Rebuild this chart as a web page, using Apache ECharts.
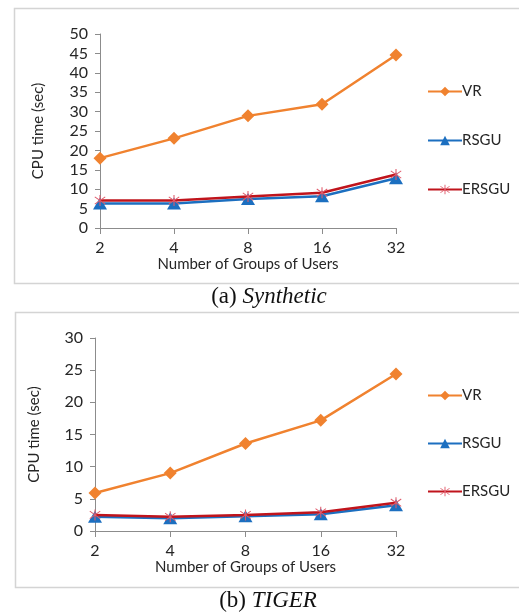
<!DOCTYPE html>
<html><head><meta charset="utf-8">
<script src="https://cdn.jsdelivr.net/npm/echarts@6/dist/echarts.min.js"></script>
<style>html,body{margin:0;padding:0;background:#fff}#c{width:519px;height:615px}</style>
</head><body><div id="c"></div>
<script>
const categories = ['2', '4', '8', '16', '32'];
const synVR = [18, 23.1, 28.9, 31.9, 44.6];
const synRSGU = [6.3, 6.3, 7.5, 8.2, 12.8];
const synERSGU = [7.1, 7.1, 8.1, 9.1, 13.8];
const tigVR = [5.9, 9.0, 13.6, 17.2, 24.4];
const tigRSGU = [2.2, 2.0, 2.3, 2.6, 4.0];
const tigERSGU = [2.5, 2.2, 2.5, 2.9, 4.4];
const seriesNames = ['VR', 'RSGU', 'ERSGU'];
const captionA = ['(a) ', 'Synthetic'];
const captionB = ['(b) ', 'TIGER'];
const yNameText = 'CPU time (sec)';
const xNameText = 'Number of Groups of Users';

const FONT = 'Lato';
const TXT = '#262626';
const colors = {VR: '#F0822F', RSGU: '#1C6FC0', ERSGU: '#C0141C'};
const starPath = 'path://M9.2,0 L10.8,0 L10.8,20 L9.2,20 Z M1.8,4.0 L2.6,2.6 L18.2,16.0 L17.4,17.4 Z M17.4,2.6 L18.2,4.0 L2.6,17.4 L1.8,16.0 Z';
const symbols = {VR: 'diamond', RSGU: 'triangle', ERSGU: starPath};
const symSizes = {VR: 13, RSGU: [14, 12], ERSGU: 11};
const symColors = {VR: '#F0822F', RSGU: '#1C6FC0', ERSGU: '#E05A6A'};

function mkSeries(name, data, idx) {
  return {
    type: 'line', name: name, data: data,
    xAxisIndex: idx, yAxisIndex: idx,
    symbol: symbols[name], symbolSize: symSizes[name],
    lineStyle: {color: colors[name], width: 2.5},
    itemStyle: {color: symColors[name]},
    z: name === 'VR' ? 3 : (name === 'ERSGU' ? 4 : 2),
    animation: false
  };
}
const axisGray = '#8c8c8c';
function mkX(gridIndex) {
  return {
    type: 'category', gridIndex: gridIndex, data: categories, boundaryGap: false,
    axisLine: {lineStyle: {color: axisGray, width: 1}},
    axisTick: {show: true, alignWithLabel: true, length: 6, lineStyle: {color: axisGray}},
    axisLabel: {color: TXT, fontFamily: FONT, fontSize: 16, margin: 12},
    name: xNameText, nameLocation: 'middle', nameGap: 29,
    nameTextStyle: {color: TXT, fontFamily: FONT, fontSize: 15},
    splitLine: {show: false}
  };
}
function mkY(gridIndex, max, gap) {
  return {
    type: 'value', gridIndex: gridIndex, min: 0, max: max, interval: 5,
    axisLine: {show: true, lineStyle: {color: axisGray, width: 1}},
    axisTick: {show: true, length: 5, lineStyle: {color: axisGray}},
    axisLabel: {color: TXT, fontFamily: FONT, fontSize: 16, margin: 12},
    name: yNameText, nameLocation: 'middle', nameGap: gap, nameRotate: 90,
    nameTextStyle: {color: TXT, fontFamily: FONT, fontSize: 15},
    splitLine: {show: false}
  };
}
function mkLegend(top, gap) {
  return {
    orient: 'vertical', left: 422, top: top, itemGap: gap, itemWidth: 34, itemHeight: 12,
    data: seriesNames, selectedMode: false,
    textStyle: {color: TXT, fontFamily: FONT, fontSize: 15, padding: [0, 0, 0, -5]}
  };
}
const captionRich = {
  n: {fontFamily: 'Liberation Serif', fontSize: 23, fill: '#111'},
  i: {fontFamily: 'Liberation Serif', fontStyle: 'italic', fontSize: 23, fill: '#111'}
};
const option = {
  backgroundColor: '#fff',
  animation: false,
  graphic: [
    {type: 'rect', shape: {x: 14.5, y: 8.5, width: 520, height: 275}, style: {fill: 'none', stroke: '#d4d4d4', lineWidth: 1.5}, z: -10},
    {type: 'rect', shape: {x: 15.5, y: 312.5, width: 520, height: 275}, style: {fill: 'none', stroke: '#d4d4d4', lineWidth: 1.5}, z: -10},
    {type: 'text', x: 269, y: 297, style: {text: '{n|' + captionA[0] + '}{i|' + captionA[1] + '}', rich: captionRich, align: 'center', verticalAlign: 'middle'}},
    {type: 'text', x: 268, y: 601, style: {text: '{n|' + captionB[0] + '}{i|' + captionB[1] + '}', rich: captionRich, align: 'center', verticalAlign: 'middle'}}
  ],
  grid: [
    {left: 100, right: 123, top: 34, bottom: 387},
    {left: 95, right: 123, top: 338, bottom: 84}
  ],
  xAxis: [mkX(0), mkX(1)],
  yAxis: [mkY(0, 50, 54), mkY(1, 30, 53)],
  legend: [mkLegend(79, 34), mkLegend(383, 33)],
  series: [
    mkSeries('VR', synVR, 0), mkSeries('RSGU', synRSGU, 0), mkSeries('ERSGU', synERSGU, 0),
    mkSeries('VR', tigVR, 1), mkSeries('RSGU', tigRSGU, 1), mkSeries('ERSGU', tigERSGU, 1)
  ]
};
const chart = echarts.init(document.getElementById('c'), null, {renderer: 'canvas'});
chart.setOption(option);
</script></body></html>
